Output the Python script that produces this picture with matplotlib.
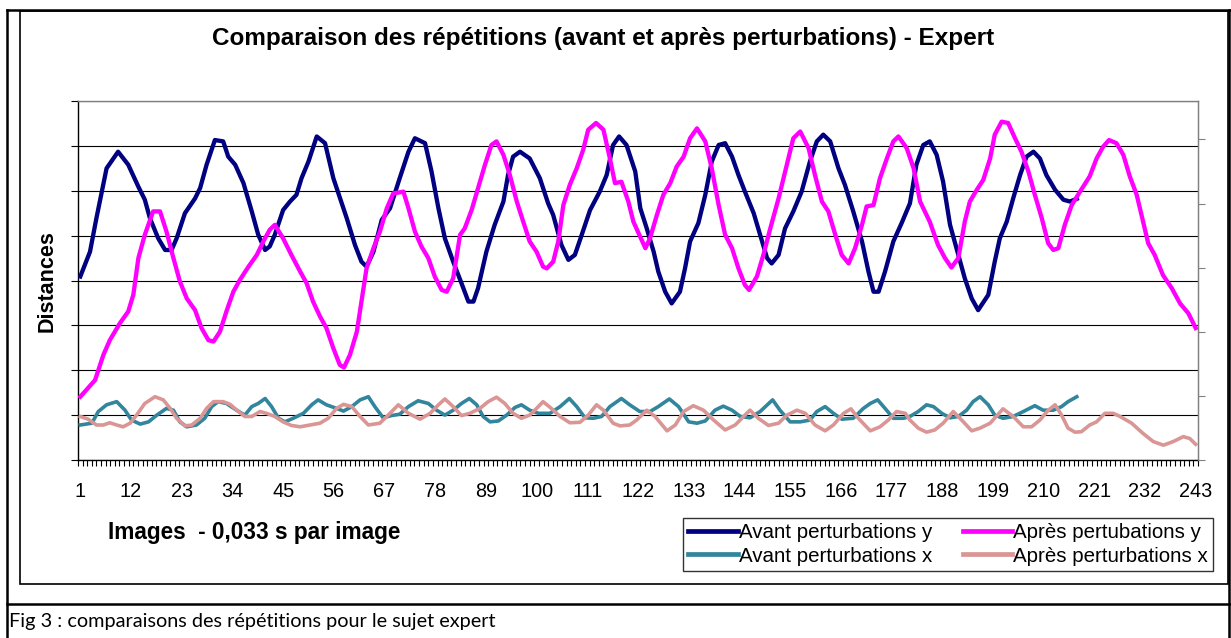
import matplotlib
matplotlib.use("Agg")
import matplotlib.pyplot as plt
from matplotlib.lines import Line2D

# figure size in pixels
W, H = 1231, 638

# x tick labels (image number)
tick_labels = list(range(1, 244, 11))

# Avant perturbations y
avant_y_x = [1, 3.1, 4.5, 6.7, 9.2, 11.4, 13.6, 15.0, 16.1, 17.9, 19.4, 20.8, 21.9, 23.7, 25.9, 27.0, 28.4, 30.2, 32.0, 33.1,
             34.6, 36.4, 38.2, 39.6, 41.1, 42.1, 43.2, 45.0, 46.5, 47.9, 49.0, 50.5, 52.3, 54.1, 55.9, 58.8,
             60.6, 62.0, 63.1, 64.6, 66.4, 68.2, 70.3, 72.2, 73.6, 75.8, 77.2, 78.7, 80.1, 81.9, 83.7, 85.2, 86.3, 87.3,
             89.1, 90.9, 92.8, 93.8, 94.9, 96.4, 98.5, 100.7, 102.5, 103.6, 105.4, 106.9, 108.3, 109.8, 111.6, 113.7,
             115.2, 116.6, 117.9, 119.5,
             121.4, 122.5, 123.9, 125.4, 126.4, 127.9, 129.3, 131.1, 132.2, 133.3, 135.1, 136.6, 138.0, 139.5, 140.9,
             142.4, 143.8, 145.2, 147.1, 148.5, 150.0, 151.0, 152.5, 153.9, 155.7, 157.5, 159.3, 160.8, 162.2, 163.7,
             165.5, 166.9, 168.7, 170.6, 172.0, 173.1, 174.2, 175.6, 177.4, 179.2,
             181.0, 182.4, 183.9, 185.3, 186.8, 188.2, 189.7, 191.1, 192.9, 194.4, 195.8, 198.0, 199.4, 200.5, 202.0,
             203.4, 204.9, 206.3, 207.8, 209.2, 210.6, 212.5, 214.3, 215.7, 217.2]
avant_y_v = [4.09, 4.64, 5.39, 6.50, 6.87, 6.58, 6.09, 5.80, 5.39, 4.94, 4.68, 4.68, 4.94, 5.50, 5.83, 6.06, 6.58, 7.13, 7.10, 6.76,
             6.58, 6.17, 5.54, 5.02, 4.68, 4.76, 5.02, 5.57, 5.76, 5.91, 6.28, 6.65, 7.21, 7.06, 6.28, 5.39,
             4.79, 4.42, 4.31, 4.64, 5.35, 5.61, 6.28, 6.87, 7.17, 7.06, 6.43, 5.61, 4.94, 4.42, 3.94, 3.53, 3.53, 3.83,
             4.64, 5.24, 5.76, 6.35, 6.76, 6.87, 6.72, 6.28, 5.72, 5.46, 4.79, 4.46, 4.57, 5.02, 5.57, 5.98,
             6.35, 7.02, 7.21, 7.02,
             6.43, 5.61, 5.16, 4.64, 4.20, 3.75, 3.49, 3.75, 4.27, 4.87, 5.28, 5.91, 6.65, 7.02, 7.06,
             6.76, 6.35, 5.98, 5.50, 5.02, 4.50, 4.38, 4.57, 5.16, 5.54, 5.98, 6.65, 7.10, 7.25, 7.10,
             6.50, 6.13, 5.54, 4.87, 4.20, 3.75, 3.75, 4.20, 4.87, 5.28,
             5.72, 6.58, 7.02, 7.10, 6.80, 6.20, 5.24, 4.72, 4.05, 3.60, 3.34, 3.68, 4.42, 4.94, 5.31,
             5.83, 6.35, 6.76, 6.87, 6.72, 6.35, 6.02, 5.80, 5.76, 5.82]

# Après pertubations y
apres_y_x = [1, 4.2, 6.0, 7.4, 9.6, 11.4, 12.5, 13.6, 15.0, 16.8, 18.3, 19.7, 21.2, 22.6, 24.1, 25.9, 27.3, 28.8, 29.9, 31.3,
             32.7, 34.2, 35.6, 37.5, 39.3, 40.7, 42.1, 43.2, 45.0, 46.8, 48.7, 50.1, 51.5, 53.0, 54.4, 55.9, 57.3, 58.2, 59.5,
             61.0, 62.0, 63.1, 64.6, 66.0, 67.5, 68.9, 71.1, 72.2, 73.6, 75.0, 76.5, 77.9, 79.4, 80.5, 81.9, 83.4, 84.4,
             85.9, 87.3, 88.8, 90.2, 91.3, 92.8, 94.2, 95.7, 97.1, 98.5, 100.0, 101.4, 102.2, 103.6, 104.7, 105.8, 107.2,
             108.7, 110.1, 111.2, 112.9, 114.5, 115.9, 117.0, 118.4, 119.9, 121.0,
             123.6, 124.6, 126.1, 127.5, 129.0, 130.4, 131.9, 133.3, 134.8, 136.6, 138.0, 139.5, 140.9, 142.4, 143.8,
             145.2, 146.1, 147.8, 149.2, 150.7, 152.5, 154.3, 155.7, 157.2, 159.0, 160.4, 161.9, 163.3, 164.8, 166.2,
             167.7, 169.1, 170.6, 171.6, 173.1, 174.5, 176.0, 177.4, 178.5, 180.3, 181.8, 183.2,
             185.3, 187.1, 188.6, 190.0, 191.5, 192.9, 194.0, 195.5, 196.9, 198.4, 199.4, 200.9, 202.3, 203.8, 205.2,
             206.7, 208.1, 209.6, 211.0, 212.1, 213.2, 214.6, 216.1, 217.9, 220.0, 221.5, 222.9, 224.2, 225.8, 227.3,
             228.7, 230.2, 231.6, 232.7, 234.1, 235.9, 237.8, 239.6, 241.4, 243]
apres_y_v = [1.41, 1.78, 2.34, 2.67, 3.05, 3.31, 3.68, 4.50, 5.02, 5.54, 5.54, 5.09, 4.50, 3.98, 3.60, 3.34, 2.94, 2.67, 2.64, 2.86,
             3.31, 3.75, 4.01, 4.31, 4.57, 4.87, 5.13, 5.24, 4.94, 4.57, 4.20, 3.94, 3.53, 3.20, 2.94, 2.49, 2.12, 2.06, 2.34,
             2.86, 3.53, 4.27, 4.72, 5.09, 5.61, 5.94, 5.98, 5.61, 5.09, 4.76, 4.50, 4.09, 3.79, 3.75, 4.05, 5.02, 5.16,
             5.57, 6.06, 6.58, 7.02, 7.10, 6.80, 6.35, 5.76, 5.31, 4.87, 4.64, 4.31, 4.27, 4.42, 4.87, 5.68, 6.13,
             6.50, 6.91, 7.36, 7.51, 7.36, 6.72, 6.17, 6.20, 5.76, 5.31,
             4.72, 4.94, 5.46, 5.91, 6.17, 6.54, 6.76, 7.17, 7.39, 7.10, 6.50, 5.68, 5.02, 4.72, 4.27,
             3.90, 3.79, 4.09, 4.57, 5.16, 5.83, 6.58, 7.17, 7.32, 6.95, 6.35, 5.76, 5.54, 5.02, 4.57,
             4.38, 4.72, 5.24, 5.65, 5.68, 6.28, 6.72, 7.10, 7.21, 6.95, 6.50, 5.76,
             5.31, 4.79, 4.50, 4.29, 4.50, 5.31, 5.76, 6.02, 6.24, 6.72, 7.25, 7.54, 7.51, 7.17, 6.87,
             6.43, 5.91, 5.39, 4.83, 4.68, 4.72, 5.24, 5.68, 5.98, 6.32, 6.72, 6.98, 7.13, 7.06, 6.80,
             6.32, 5.91, 5.31, 4.83, 4.57, 4.12, 3.83, 3.49, 3.27, 2.94]

# Avant perturbations x
avant_x_x = [1, 3.5, 4.9, 6.7, 8.9, 10.7, 12.1, 14.0, 15.8, 17.6, 19.7, 21.2, 22.6, 24.1, 26.2, 28.0, 29.5, 30.9, 32.7, 34.9,
             36.7, 38.2, 39.6, 41.1, 42.5, 44.0, 45.4, 47.2, 49.4, 51.2, 52.6, 54.4, 56.6, 58.1, 59.9,
             61.7, 63.5, 64.9, 66.7, 68.5, 70.3, 72.2, 74.3, 76.5, 78.3, 80.1, 81.9, 83.7, 85.4, 87.0, 88.4, 89.9, 91.7,
             93.5, 95.3, 96.7, 98.5, 100.4, 102.9, 105.1, 107.1, 108.7, 110.5, 112.3, 114.1, 115.9, 118.4, 120.2, 122.4,
             124.6, 126.4, 128.8, 130.8, 133.0, 134.8, 136.6, 138.7, 140.5, 142.4, 144.2, 146.3, 148.5, 151.2, 152.8,
             155.0, 157.2, 159.3, 160.8, 162.6, 164.4, 166.2, 168.7, 170.9, 172.4, 174.0, 175.6, 177.4, 179.6,
             181.0, 182.8, 184.6, 186.1, 187.9, 189.7, 191.5, 193.3, 194.7, 196.2, 198.0, 199.4, 201.2, 203.4, 205.6,
             208.1, 209.9, 212.1, 213.9, 215.3, 217.2]
avant_x_v = [0.78, 0.82, 1.08, 1.23, 1.30, 1.11, 0.89, 0.80, 0.85, 1.00, 1.15, 1.11, 0.85, 0.74, 0.78, 0.93, 1.19, 1.30, 1.26, 1.11,
             1.00, 1.19, 1.26, 1.37, 1.19, 0.93, 0.85, 0.93, 1.04, 1.23, 1.34, 1.23, 1.15, 1.09, 1.19,
             1.34, 1.41, 1.19, 0.94, 0.99, 1.02, 1.19, 1.32, 1.26, 1.11, 1.00, 1.11, 1.26, 1.37, 1.23, 0.97, 0.85, 0.87,
             1.00, 1.17, 1.23, 1.11, 1.04, 1.04, 1.19, 1.37, 1.19, 0.94, 0.93, 0.97, 1.19, 1.37, 1.23, 1.08,
             1.08, 1.19, 1.36, 1.19, 0.85, 0.82, 0.87, 1.11, 1.20, 1.11, 0.97, 0.94, 1.08, 1.34, 1.11,
             0.85, 0.85, 0.89, 1.08, 1.19, 1.04, 0.91, 0.93, 1.15, 1.26, 1.34, 1.15, 0.93, 0.93,
             0.97, 1.08, 1.23, 1.19, 1.04, 0.94, 0.97, 1.11, 1.30, 1.41, 1.23, 1.00, 0.93, 0.97, 1.08,
             1.21, 1.11, 1.11, 1.19, 1.30, 1.41]

# Après perturbations x
apres_x_x = [1, 2.7, 4.5, 6.0, 7.4, 8.9, 10.3, 11.8, 13.2, 15.0, 17.2, 19.0, 20.5, 21.9, 23.7, 25.2, 27.0, 28.4, 29.9, 32.0,
             33.5, 35.3, 36.7, 38.2, 40.0, 41.4, 43.2, 45.0, 46.8, 48.7, 50.8, 53.0, 54.8, 56.6, 58.1, 59.9, 61.7,
             63.5, 66.0, 67.8, 70.0, 72.2, 74.7, 76.9, 78.7, 80.1, 81.9, 83.7, 85.5, 87.7, 89.5, 91.3, 93.1, 94.9, 96.7,
             98.5, 100.0, 101.4, 103.2, 105.1, 107.2, 109.4, 111.2, 113.0, 114.5, 116.6, 118.1, 120.2,
             121.7, 123.9, 125.7, 128.3, 130.1, 131.9, 134.0, 136.2, 138.4, 140.9, 143.1, 144.9, 146.3, 148.1, 150.3,
             152.5, 154.3, 156.5, 158.3, 160.4, 162.6, 164.4, 166.6, 168.2, 169.8, 172.4, 174.5, 176.3, 178.1, 180.0,
             181.0, 182.8, 184.6, 186.4, 188.2, 190.4, 192.6, 194.4, 196.2, 198.4, 201.2, 203.4, 205.6, 207.4, 209.2,
             211.0, 212.5, 213.9, 215.3, 216.8, 218.2, 220.0, 221.5, 223.3, 225.1, 226.6, 229.1, 231.6, 233.8, 236.0,
             238.1, 240.3, 241.7, 243]
apres_x_v = [0.97, 0.91, 0.78, 0.78, 0.83, 0.78, 0.74, 0.82, 1.00, 1.26, 1.41, 1.34, 1.15, 0.93, 0.76, 0.78, 0.93, 1.15, 1.30, 1.30,
             1.24, 1.08, 0.97, 0.97, 1.08, 1.04, 0.97, 0.85, 0.77, 0.74, 0.78, 0.82, 0.93, 1.15, 1.24, 1.19, 0.97,
             0.78, 0.82, 1.00, 1.23, 1.04, 0.91, 1.04, 1.23, 1.36, 1.19, 0.99, 1.04, 1.15, 1.30, 1.40, 1.26, 1.04, 0.93,
             1.00, 1.15, 1.30, 1.15, 0.97, 0.83, 0.84, 1.00, 1.23, 1.11, 0.82, 0.76, 0.78,
             0.89, 1.11, 0.97, 0.65, 0.78, 1.08, 1.21, 1.11, 0.89, 0.67, 0.78, 0.97, 1.11, 0.93, 0.77,
             0.82, 1.00, 1.11, 1.04, 0.78, 0.65, 0.78, 1.04, 1.14, 0.93, 0.65, 0.74, 0.89, 1.08, 1.04,
             0.89, 0.71, 0.62, 0.67, 0.82, 1.08, 0.85, 0.65, 0.71, 0.82, 1.14, 0.97, 0.74, 0.74, 0.89,
             1.11, 1.23, 1.00, 0.71, 0.62, 0.63, 0.78, 0.85, 1.04, 1.04, 0.97, 0.82, 0.59, 0.41, 0.33,
             0.41, 0.52, 0.48, 0.35]

labels = ["Avant perturbations y", "Après pertubations y", "Avant perturbations x", "Après perturbations x"]
colors = ["#000080", "#FF00FF", "#31859C", "#D99694"]


# pixel -> figure coords
def fx(x):
    return x / W


def fy(y):
    return 1 - y / H


plt.rcParams['font.family'] = ['Liberation Sans', 'DejaVu Sans']

fig = plt.figure(figsize=(W / 100, H / 100), dpi=100)
fig.patch.set_facecolor('white')

# plot area
left, right, top, bottom = 78, 1198, 101, 460
ax = fig.add_axes([fx(left), fy(bottom), (right - left) / W, (bottom - top) / H])
ax.set_xlim(0.5, 243.5)
ax.set_ylim(0, 8)

ax.plot(avant_y_x, avant_y_v, color=colors[0], lw=3.1, zorder=3, solid_joinstyle='round')
ax.plot(apres_y_x, apres_y_v, color=colors[1], lw=3.1, zorder=3, solid_joinstyle='round')
ax.plot(avant_x_x, avant_x_v, color=colors[2], lw=2.6, zorder=3, solid_joinstyle='round')
ax.plot(apres_x_x, apres_x_v, color=colors[3], lw=2.6, zorder=3, solid_joinstyle='round')

# axes styling
ax.set_yticks(range(0, 9))
ax.set_yticklabels([])
ax.yaxis.grid(True, color='black', lw=0.8)
ax.set_axisbelow(True)
ax.tick_params(axis='y', direction='out', length=5, width=0.8, color='black')

ax.set_xticks(tick_labels)
ax.set_xticklabels([str(t) for t in tick_labels], fontsize=14.3)
ax.set_xticks([i + 0.5 for i in range(0, 244)], minor=True)
ax.tick_params(axis='x', which='major', length=0, pad=16)
ax.tick_params(axis='x', which='minor', direction='out', length=4.5, width=0.8, color='black')

ax.spines['left'].set_color('black')
ax.spines['bottom'].set_color('black')
ax.spines['top'].set_color('#808080')
ax.spines['right'].set_color('#808080')
for s in ax.spines.values():
    s.set_linewidth(1.0)

# secondary axis (ticks only)
ax2 = ax.twinx()
ax2.set_ylim(0, 5.6)
ax2.set_yticks(range(0, 6))
ax2.set_yticklabels([])
ax2.tick_params(axis='y', direction='out', length=5, width=0.8, color='#808080')
for k in ['left', 'top', 'bottom']:
    ax2.spines[k].set_visible(False)
ax2.spines['right'].set_color('#808080')

# texts
fig.text(fx(603), fy(38), "Comparaison des répétitions (avant et après perturbations) - Expert",
         ha='center', va='center', fontsize=17.5, fontweight='bold')
fig.text(fx(47), fy(281), "Distances", ha='center', va='center', rotation=90,
         fontsize=15.5, fontweight='bold')
fig.text(fx(108), fy(533), "Images  - 0,033 s par image", ha='left', va='center',
         fontsize=16.3, fontweight='bold')

# legend
handles = [Line2D([], [], color=c, lw=3.4) for c in colors]
order = [0, 2, 1, 3]
leg = fig.legend([handles[i] for i in order], [labels[i] for i in order], ncol=2,
                 loc='upper right', bbox_to_anchor=(fx(1213), fy(518)),
                 fontsize=14.8, frameon=True, fancybox=False, edgecolor='black',
                 handlelength=2.4, handletextpad=0.05, columnspacing=1.5,
                 labelspacing=0.22, borderpad=0.25, borderaxespad=0)
leg.get_frame().set_linewidth(1.0)

# chart border and table borders
fig.add_artist(plt.Rectangle((fx(20), fy(584)), (1228 - 20) / W, (584 - 11) / H,
                             fill=False, edgecolor='black', lw=1.2, transform=fig.transFigure))
for (x0, y0, x1, y1) in [(7, 10, 1231, 10), (7, 10, 7, 638), (7, 604, 1231, 604), (1229, 10, 1229, 638)]:
    fig.add_artist(Line2D([fx(x0), fx(x1)], [fy(y0), fy(y1)], color='black', lw=1.8,
                          transform=fig.transFigure))

fig.text(fx(9), fy(622), "Fig 3 : comparaisons des répétitions pour le sujet expert",
         ha='left', va='center', fontsize=14.3, family=['Lato', 'DejaVu Sans'])

fig.savefig("out.png", dpi=100)
